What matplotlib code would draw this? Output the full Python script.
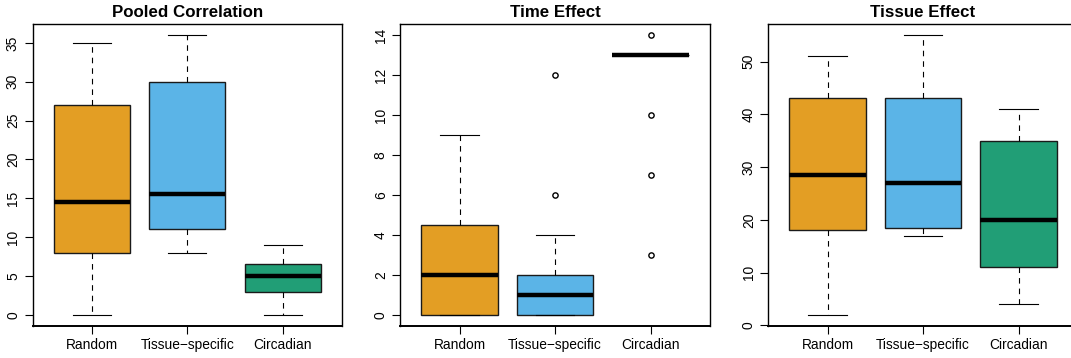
import matplotlib
matplotlib.use("Agg")
import matplotlib.pyplot as plt

plt.rcParams['font.family'] = ['Liberation Sans', 'DejaVu Sans']

groups = ["Random", "Tissue\u2212specific", "Circadian"]
colors = ["#E39E24", "#5BB4E7", "#219E76"]
titles = ["Pooled Correlation", "Time Effect", "Tissue Effect"]

# five-number summaries per panel: (whisker low, Q1, median, Q3, whisker high)
pooled_stats = [(0, 8, 14.5, 27, 35), (8, 11, 15.5, 30, 36), (0, 3, 5, 6.5, 9)]
time_stats = [(0, 0, 2, 4.5, 9), (0, 0, 1, 2, 4), (13, 13, 13, 13, 13)]
tissue_stats = [(2, 18, 28.5, 43, 51), (17, 18.5, 27, 43, 55), (4, 11, 20, 35, 41)]

pooled_outliers = [[], [], []]
time_outliers = [[], [6, 12], [14, 10, 7, 3]]
tissue_outliers = [[], [], []]

pooled_yticks = [0, 5, 10, 15, 20, 25, 30, 35]
time_yticks = [0, 2, 4, 6, 8, 10, 12, 14]
tissue_yticks = [0, 10, 20, 30, 40, 50]

panels = [
    (pooled_stats, pooled_outliers, pooled_yticks),
    (time_stats, time_outliers, time_yticks),
    (tissue_stats, tissue_outliers, tissue_yticks),
]

W, H = 1071, 358
fig = plt.figure(figsize=(W / 100, H / 100), dpi=100)

lefts = [32.5, 400.3, 768.3]
ax_w = 309.5
top, bottom = 24, 326

for i, (stats, outl, yticks) in enumerate(panels):
    ax = fig.add_axes([lefts[i] / W, 1 - bottom / H, ax_w / W, (bottom - top) / H])
    bxp_stats = []
    for (lo, q1, med, q3, hi), fl in zip(stats, outl):
        bxp_stats.append(dict(whislo=lo, q1=q1, med=med, q3=q3, whishi=hi, fliers=fl))
    res = ax.bxp(bxp_stats, positions=[1, 2, 3], widths=0.8, capwidths=0.4,
                 patch_artist=True, showfliers=True,
                 boxprops=dict(edgecolor="#1a1a1a", linewidth=1.0),
                 whiskerprops=dict(color="black", linewidth=0.8, linestyle=(0, (5, 4.5))),
                 capprops=dict(color="black", linewidth=0.8),
                 medianprops=dict(color="black", linewidth=3.2, solid_capstyle="butt"),
                 flierprops=dict(marker="o", markersize=3.8, markerfacecolor="none",
                                 markeredgecolor="black", markeredgewidth=1.0))
    for patch, c in zip(res["boxes"], colors):
        patch.set_facecolor(c)

    # data range padded by 4% on both sides
    vals = [v for s in stats for v in (s[0], s[4])] + [v for f in outl for v in f]
    lo, hi = min(vals), max(vals)
    pad = 0.04 * (hi - lo)
    ax.set_ylim(lo - pad, hi + pad)
    ax.set_xlim(0.38, 3.62)

    ax.set_yticks(yticks)
    ax.set_yticklabels([str(t) for t in yticks], rotation=90, va="center")
    ax.set_xticks([1, 2, 3])
    ax.set_xticklabels(groups)
    ax.tick_params(axis="both", direction="out", length=6, width=0.8,
                   labelsize=9.9, colors="black")
    ax.tick_params(axis="y", pad=3)
    ax.tick_params(axis="x", pad=2.5)
    for sp in ax.spines.values():
        sp.set_linewidth(1.0)
    ax.spines["bottom"].set_linewidth(1.4)
    ax.set_title(titles[i], fontsize=12.2, fontweight="bold", pad=5)

fig.savefig("out.png", dpi=100)
